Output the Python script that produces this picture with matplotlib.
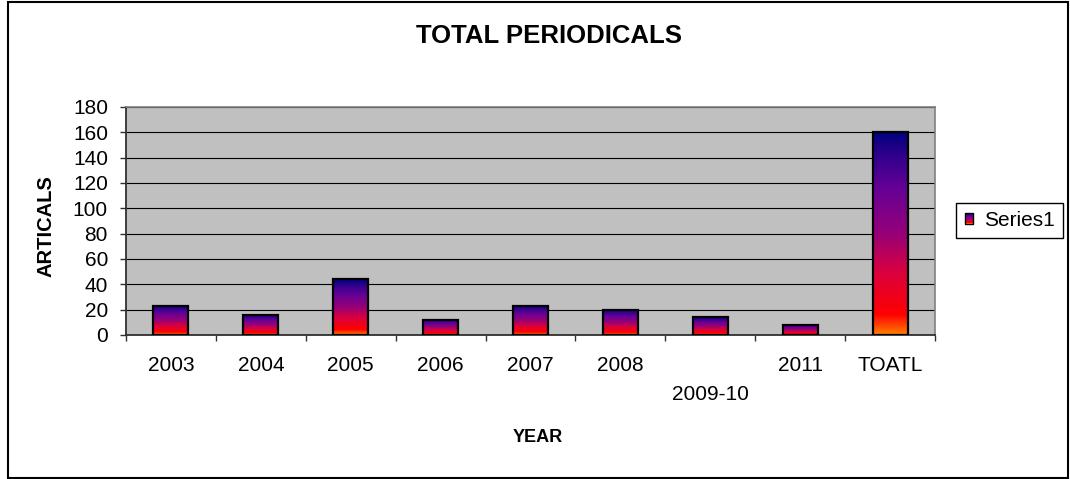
import numpy as np
import matplotlib
matplotlib.use("Agg")
import matplotlib.pyplot as plt
from matplotlib.colors import LinearSegmentedColormap
from matplotlib.patches import Rectangle, Patch
from matplotlib.legend_handler import HandlerBase

years = ["2003", "2004", "2005", "2006", "2007", "2008", "2009-10", "2011", "TOATL"]
articals = [23, 16, 44, 12, 23, 20, 14, 8, 160]
yticks = list(range(0, 181, 20))

plt.rcParams['font.family'] = ['Liberation Sans', 'DejaVu Sans']

# excel style fill: orange at the bottom, navy at the top
fire = LinearSegmentedColormap.from_list("fire", [
    (0.0, "#ff8000"), (0.1, "#ff0000"), (0.3, "#dc003c"),
    (0.5, "#960078"), (0.72, "#660096"), (0.88, "#32008c"), (1.0, "#000080")])
grad = np.linspace(0, 1, 256).reshape(-1, 1)


class GradHandler(HandlerBase):
    def create_artists(self, legend, orig_handle, xd, yd, w, h, fontsize, trans):
        n = 10
        arts = []
        for i in range(n):
            arts.append(Rectangle((-xd, -yd + h * i / n), w, h / n,
                                  facecolor=fire(i / (n - 1)), edgecolor="none", transform=trans))
        arts.append(Rectangle((-xd, -yd), w, h, facecolor="none", edgecolor="black",
                              linewidth=1, transform=trans))
        return arts


fig = plt.figure(figsize=(10.7, 4.79), dpi=100)
ax = fig.add_axes([126 / 1070, 1 - 335 / 479, 809 / 1070, 228 / 479])
ax.set_facecolor("#c0c0c0")

x = np.arange(len(years)) + 0.5
bars = ax.bar(x, articals, width=0.39, facecolor="none", edgecolor="black", linewidth=1.6, zorder=3)
for b in bars:
    ax.imshow(grad, cmap=fire, origin="lower", aspect="auto", interpolation="bilinear",
              extent=[b.get_x(), b.get_x() + b.get_width(), 0, b.get_height()], zorder=2)

ax.set_xlim(0, len(years))
ax.set_ylim(0, 180)
ax.set_yticks(yticks)
ax.yaxis.grid(True, color="black", linewidth=0.8)
ax.set_axisbelow(True)

ax.set_xticks(np.arange(len(years) + 1))
ax.set_xticklabels([])
ax.set_xticks(x, minor=True)
ax.set_xticklabels(years, minor=True)
ax.tick_params(axis="x", which="major", length=4, width=1, direction="out", color="#303030")
ax.tick_params(axis="x", which="minor", length=0, pad=15, labelsize=15)
ax.xaxis.get_minor_ticks()[6].set_pad(15 + 21)
ax.tick_params(axis="y", length=4, width=1, direction="out", pad=9, labelsize=15, color="#303030")

for s in ["top", "right"]:
    ax.spines[s].set_color("#808080")
    ax.spines[s].set_linewidth(1.2)
for s in ["left", "bottom"]:
    ax.spines[s].set_color("#303030")
    ax.spines[s].set_linewidth(1.3)

fig.text(549 / 1070, 1 - 36 / 479, "TOTAL PERIODICALS", ha="center", va="center",
         fontsize=18.5, fontweight="bold")
fig.text(538 / 1070, 1 - 437 / 479, "YEAR", ha="center", va="center",
         fontsize=13, fontweight="bold")
fig.text(45.5 / 1070, 1 - 226 / 479, "ARTICALS", ha="center", va="center", rotation=90,
         fontsize=14.5, fontweight="bold")

leg = fig.legend(handles=[Patch()], labels=["Series1"], loc="center",
                 bbox_to_anchor=(1009.5 / 1070, 1 - 220.5 / 479),
                 handler_map={Patch: GradHandler()},
                 frameon=True, fancybox=False, framealpha=1, edgecolor="black",
                 fontsize=15, handlelength=0.42, handleheight=0.42, handletextpad=0.5,
                 borderpad=0.4, borderaxespad=0)
leg.get_frame().set_linewidth(1)

fig.patches.append(Rectangle((8 / 1070, 1 / 479), 1060 / 1070, 476 / 479, transform=fig.transFigure,
                             facecolor="none", edgecolor="black", linewidth=1.5))

plt.savefig("out.png", dpi=100)
